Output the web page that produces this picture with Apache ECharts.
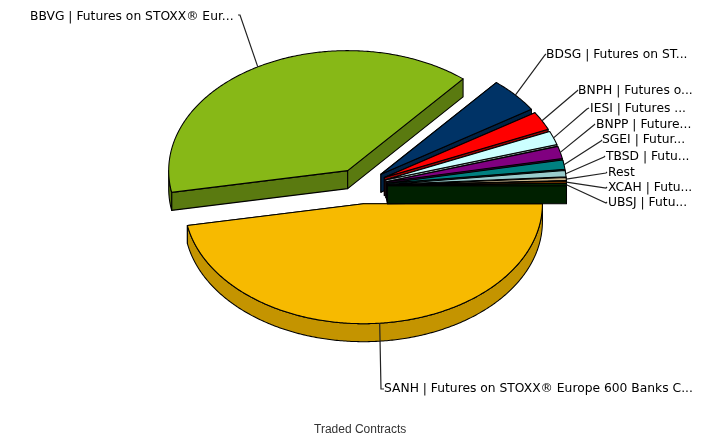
<!DOCTYPE html>
<html><head><meta charset="utf-8"><style>html,body{margin:0;padding:0;background:#fff}#c{width:715px;height:437px}</style>
<script src="https://cdn.jsdelivr.net/npm/echarts@6/dist/echarts.min.js"></script></head>
<body><div id="c"></div>
<script>
const labels = ['SANH | Futures on STOXX® Europe 600 Banks C...','BBVG | Futures on STOXX® Eur...','BDSG | Futures on ST...','BNPH | Futures o...','IESI | Futures ...','BNPP | Future...','SGEI | Futur...','TBSD | Futu...','Rest','XCAH | Futu...','UBSJ | Futu...'];
const values = [47.1,39.05,4.75,2.5,1.85,1.65,1.25,0.85,0.4,0.3,0.3];
const topColors = ['#F7BA00','#87B817','#003366','#FF0000','#CCFFFF','#800080','#008080','#99CCCC','#C8B68E','#663300','#003300'];
const sideColors = ['#C49400','#5A7A10','#002244','#990000','#8C9C9C','#550055','#005555','#668888','#8A7C60','#442200','#002000'];
// label layout: text x, text y, elbow x, elbow y, leader end x, leader end y
const labelLayout = [[384,389,381,389,384,389],[30,17,240,15,238,15],[546,55,545,55,546,54],[578,91,577,91,578,90],[590,109,587,109,589,108],[596,125,594,125,595,124],[602,140,601,141,602,140],[606,157,604,157,605,156],[608,173,606,173,607,172],[608,188,606,188,607,187],[608,203,606,203,607,202]];
const CX=361, CY=186, RX=179, RY=120, DEPTH=18, EXPLODE=0.148;
const total = values.reduce((a,b)=>a+b,0);
const starts=[]; values.reduce((acc,v,i)=>{starts[i]=acc;return acc+v/total*2*Math.PI;},0);

function renderItem(params, api){
  const i=params.dataIndex, v=api.value(0);
  const a0=starts[i], a1=a0+v/total*2*Math.PI, mid=(a0+a1)/2;
  const cx=CX+EXPLODE*RX*Math.cos(mid), cy=CY+EXPLODE*RY*Math.sin(mid);
  const P=a=>[cx+RX*Math.cos(a),cy+RY*Math.sin(a)];
  const down=p=>[p[0],p[1]+DEPTH];
  const arc=(s,e)=>{const n=Math.max(2,Math.ceil((e-s)/0.01));const o=[];for(let k=0;k<=n;k++)o.push(P(s+(e-s)*k/n));return o;};
  const line={stroke:'#000',lineWidth:1.05,lineJoin:'round'};
  const kids=[];
  const side=pts=>kids.push({type:'polygon',shape:{points:pts},style:Object.assign({fill:sideColors[i]},line)});
  const apex=[cx,cy];
  side([apex,P(a0),down(P(a0)),down(apex)]);
  side([apex,P(a1),down(P(a1)),down(apex)]);
  // outer wall: only the part of the rim on the near side
  const s=Math.max(a0,0), e=Math.min(a1,Math.PI);
  if(e>s){const r=arc(s,e);side(r.concat(r.slice().reverse().map(down)));}
  kids.push({type:'polygon',shape:{points:[apex].concat(arc(a0,a1))},style:Object.assign({fill:topColors[i]},line)});
  const L=labelLayout[i];
  kids.push({type:'polyline',shape:{points:[P(mid),[L[2],L[3]],[L[4],L[5]]]},style:{stroke:'#222',lineWidth:1.2,fill:null}});
  kids.push({type:'text',style:{x:L[0],y:L[1],text:labels[i],align:'left',verticalAlign:'middle',fill:'#000',font:'12.3px "DejaVu Sans"'}});
  return {type:'group',children:kids};
}
const chart=echarts.init(document.getElementById('c'),null,{renderer:'canvas'});
chart.setOption({animation:false,backgroundColor:'#fff',
  title:{text:'Traded Contracts',left:314,top:424,padding:0,textStyle:{fontFamily:'"Liberation Sans"',fontSize:12,fontWeight:'normal',color:'#333'}},
  series:[{type:'custom',coordinateSystem:'none',renderItem,data:values.map((v,i)=>({name:labels[i],value:[v]}))}]});
</script></body></html>
